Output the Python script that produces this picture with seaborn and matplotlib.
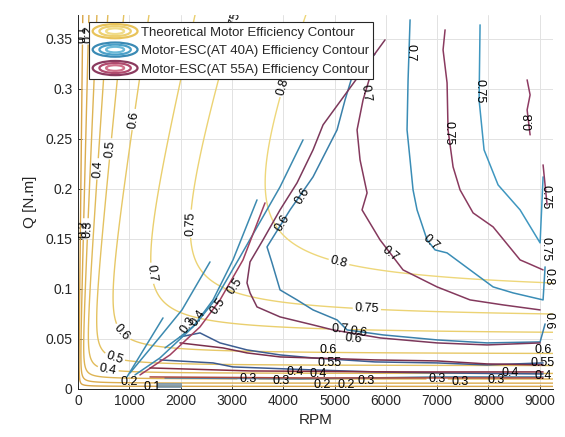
import numpy as np
import pandas as pd
import seaborn as sns
import matplotlib
matplotlib.use("Agg")
import matplotlib.pyplot as plt
from matplotlib.patches import Ellipse
from matplotlib.lines import Line2D
from matplotlib.legend_handler import HandlerBase

# ---------------- theoretical motor model constants ----------------
KV_RPM_PER_V = 1000.0      # motor velocity constant
R_WINDING = 0.019          # winding resistance [ohm]
I_NO_LOAD = 2.4            # no-load current [A]
theory_levels = [0.1, 0.2, 0.3, 0.4, 0.5, 0.6, 0.7, 0.75, 0.8]
theory_colors = ["#d8a447", "#dbac4e", "#deb454", "#e1bb5a", "#e4c261",
                 "#e7c867", "#eacf6e", "#ecd374", "#eed77a"]
RPM_MAX = 9260
Q_MAX = 0.374

# Motor-ESC (AT 40A)
b075_rpm = [7836, 7817, 7914, 8187, 8616, 9006, 9064]
b075_q = [0.364, 0.289, 0.239, 0.204, 0.179, 0.146, 0.212]
b070_rpm = [6472, 6433, 6413, 6472, 6530, 6608, 6706, 6803, 6959, 7193, 7641, 8090, 8480, 9064, 9103]
b070_q = [0.369, 0.309, 0.259, 0.229, 0.199, 0.179, 0.164, 0.149, 0.139, 0.136, 0.119, 0.102, 0.096, 0.089, 0.122]
b060_rpm = [5790, 5341, 5205, 5049, 4581, 4133, 3684, 3782, 3938, 4269, 4581, 5049, 5244, 5945, 6998, 7973, 9006, 9103]
b060_q = [0.335, 0.312, 0.289, 0.259, 0.212, 0.179, 0.142, 0.126, 0.099, 0.089, 0.079, 0.069, 0.059, 0.054, 0.049, 0.046, 0.047, 0.065]
b055_rpm = [1988, 2378, 2768, 3294, 3938, 4581, 5789, 6998, 7973, 9064]
b055_q = [0.052, 0.056, 0.046, 0.039, 0.034, 0.031, 0.027, 0.026, 0.024, 0.026]
b050a_rpm = [4386, 3938, 3548, 3158, 2671, 2281, 1988, 1696]
b050a_q = [0.249, 0.202, 0.167, 0.132, 0.089, 0.064, 0.052, 0.041]
b050b_rpm = [3489, 3021, 2632, 2242, 1598, 1111]
b050b_q = [0.189, 0.129, 0.089, 0.062, 0.031, 0.014]
b040a_rpm = [2573, 2027, 1598, 1014]
b040a_q = [0.127, 0.079, 0.052, 0.016]
b040b_rpm = [1657, 955]
b040b_q = [0.071, 0.012]
b040_rpm = [1598, 2632, 3021, 4581, 5789, 6998, 9064]
b040_q = [0.029, 0.026, 0.022, 0.019, 0.017, 0.016, 0.015]
b030_rpm = [1696, 4327, 6998, 9064]
b030_q = [0.011, 0.010, 0.012, 0.012]

# Motor-ESC (AT 55A)
r080_rpm = [8753, 8811, 8753, 8811]
r080_q = [0.309, 0.294, 0.279, 0.254]
r080b_rpm = [9064, 9103, 9142]
r080b_q = [0.224, 0.204, 0.184]
r075_rpm = [7154, 7115, 7193, 7212, 7310, 7446, 7700, 8090, 8616, 8753, 9064]
r075_q = [0.359, 0.339, 0.306, 0.259, 0.222, 0.199, 0.176, 0.162, 0.129, 0.126, 0.119]
r070_rpm = [5731, 5556, 5439, 5497, 5634, 5536, 5887, 6335, 6998, 7641, 8285, 9006]
r070_q = [0.319, 0.289, 0.259, 0.229, 0.196, 0.179, 0.149, 0.119, 0.102, 0.089, 0.084, 0.079]
r060_rpm = [5984, 4776, 4581, 4269, 3938, 3606, 3353, 3294, 3353, 3489, 3938, 4581, 4971, 5887, 6998, 7973, 9006]
r060_q = [0.349, 0.264, 0.239, 0.206, 0.179, 0.149, 0.127, 0.106, 0.096, 0.082, 0.072, 0.064, 0.059, 0.051, 0.046, 0.044, 0.046]
r055_rpm = [1988, 2320, 2827, 3294, 3938, 5789, 6998, 7973, 9064]
r055_q = [0.046, 0.044, 0.041, 0.036, 0.032, 0.029, 0.028, 0.025, 0.024]
r050_rpm = [3645, 3216, 2768, 2378, 1793, 1209]
r050_q = [0.186, 0.129, 0.089, 0.062, 0.034, 0.014]
r040_rpm = [1404, 3353, 6277, 9064]
r040_q = [0.021, 0.018, 0.017, 0.017]
r030_rpm = [1404, 4327, 9064]
r030_q = [0.012, 0.011, 0.011]

patch_rpm = [1540, 2030]
patch_q_low = [0.001, 0.001]
patch_q_high = [0.006, 0.006]

# contour labels: text, rpm, Q, rotation
measured_labels = [
    ("0.7", 6480, 0.336, -90), ("0.75", 7830, 0.298, -90), ("0.7", 6880, 0.146, -42),
    ("0.6", 4386, 0.193, 58), ("0.6", 3990, 0.166, 58), ("0.75", 9110, 0.140, -90),
    ("0.6", 5470, 0.057, -8),
    ("0.7", 5610, 0.296, -82), ("0.75", 7215, 0.256, -90), ("0.8", 8790, 0.268, 90),
    ("0.7", 6080, 0.135, -38), ("0.6", 5360, 0.050, -5), ("0.75", 9110, 0.192, -90),
    ("0.6", 4880, 0.039, 0), ("0.55", 4900, 0.026, 0), ("0.4", 4690, 0.015, 0),
    ("0.2", 4760, 0.004, 0), ("0.3", 7450, 0.007, 0), ("0.3", 3950, 0.008, 0),
    ("0.4", 4230, 0.017, 0), ("0.6", 9060, 0.039, 0), ("0.55", 9060, 0.026, 0),
    ("0.4", 9070, 0.013, 0), ("0.4", 8420, 0.016, 0), ("0.3", 8140, 0.009, 0),
    ("0.2", 5230, 0.004, 0), ("0.3", 5620, 0.008, 0),
    ("0.3", 2140, 0.064, 55), ("0.4", 2330, 0.071, 55), ("0.5", 2720, 0.083, 55),
    ("0.5", 3060, 0.103, 55), ("0.2", 1000, 0.007, 0), ("0.1", 1450, 0.002, 0),
    ("0.6", 9170, 0.068, -90), ("0.8", 9170, 0.112, -90),
]
theory_label_pos = [(94, 0.355), (213, 0.355), (368, 0.355), (94, 0.16), (213, 0.16),
                    (390, 0.22), (585, 0.019), (640, 0.24), (721, 0.032),
                    (1000, 0.27), (877, 0.057), (1500, 0.116), (5107, 0.062),
                    (2300, 0.165), (5630, 0.081), (5107, 0.131), (4133, 0.30),
                    (3314, 0.009), (7000, 0.008), (3300, 0.362)]

legend_labels = ["Theoretical Motor Efficiency Contour",
                 "Motor-ESC(AT 40A) Efficiency Contour",
                 "Motor-ESC(AT 55A) Efficiency Contour"]

BLUE = {"0.75": "#3f97c0", "0.7": "#3a8db6", "0.6": "#3a80aa", "0.55": "#3d5e92",
        "0.5": "#3c8ab0", "0.4": "#3d5a8e", "0.3": "#4a82a8"}
RED = {"0.8": "#8e3b63", "0.75": "#8a3a5f", "0.7": "#84395d", "0.6": "#7c385b",
       "0.55": "#7a2f4c", "0.5": "#a0405f", "0.4": "#852c40", "0.3": "#b04a3c"}

measured = [
    (b075_rpm, b075_q, BLUE["0.75"]), (b070_rpm, b070_q, BLUE["0.7"]),
    (b060_rpm, b060_q, BLUE["0.6"]), (b055_rpm, b055_q, BLUE["0.55"]),
    (b050a_rpm, b050a_q, BLUE["0.5"]), (b050b_rpm, b050b_q, BLUE["0.5"]),
    (b040a_rpm, b040a_q, BLUE["0.5"]), (b040b_rpm, b040b_q, BLUE["0.5"]),
    (b040_rpm, b040_q, BLUE["0.4"]), (b030_rpm, b030_q, BLUE["0.3"]),
    (r080_rpm, r080_q, RED["0.8"]), (r080b_rpm, r080b_q, RED["0.8"]),
    (r075_rpm, r075_q, RED["0.75"]), (r070_rpm, r070_q, RED["0.7"]),
    (r060_rpm, r060_q, RED["0.6"]), (r055_rpm, r055_q, RED["0.55"]),
    (r050_rpm, r050_q, RED["0.5"]), (r040_rpm, r040_q, RED["0.4"]),
    (r030_rpm, r030_q, RED["0.3"]),
]

# ---------------- figure ----------------
sns.set_theme(style="whitegrid")
plt.rcParams['font.family'] = ['Liberation Sans', 'DejaVu Sans']

fig = plt.figure(figsize=(5.65, 4.37), dpi=100)
ax = fig.add_axes([0.138, 0.110, 0.841, 0.856])
ax.set_facecolor("white")
ax.set_xlim(0, RPM_MAX)
ax.set_ylim(0, Q_MAX)

# theoretical efficiency field from the motor model
rpm_axis = np.linspace(0, RPM_MAX, 500)
q_axis = np.linspace(0, Q_MAX, 500)
RPM, Q = np.meshgrid(rpm_axis, q_axis)
kv_si = KV_RPM_PER_V * 2 * np.pi / 60
omega = RPM * 2 * np.pi / 60
current = Q * kv_si + I_NO_LOAD
eff = (1 - I_NO_LOAD / current) * omega / (omega + kv_si * current * R_WINDING)
cs = ax.contour(RPM, Q, eff, levels=theory_levels, colors=theory_colors, linewidths=1.0, zorder=2)

# measured contours
for xs, ys, col in measured:
    df = pd.DataFrame({"rpm": xs, "q": ys})
    sns.lineplot(data=df, x="rpm", y="q", sort=False, estimator=None, color=col,
                 linewidth=1.1, ax=ax, legend=False, zorder=3)
ax.fill_between(patch_rpm, patch_q_low, patch_q_high, color="#6f8fa6", alpha=0.8, lw=0, zorder=3)

ax.clabel(cs, inline=True, fontsize=9, colors="black", manual=theory_label_pos,
          fmt=lambda v: f"{v:g}", inline_spacing=2)

for txt, x, y, rot in measured_labels:
    ax.text(x, y, txt, rotation=rot, fontsize=9, color="black", ha="center", va="center",
            rotation_mode="anchor", zorder=4)

# axes styling
ax.set_xticks(range(0, 9001, 1000))
ax.set_yticks([0, 0.05, 0.1, 0.15, 0.2, 0.25, 0.3, 0.35])
ax.set_yticklabels(["0", "0.05", "0.1", "0.15", "0.2", "0.25", "0.3", "0.35"])
ax.tick_params(axis="both", labelsize=10, colors="#262626", direction="in", length=3, width=0.6,
               bottom=True, left=True, pad=4)
ax.grid(True, color="#e2e2e2", linewidth=0.7)
for s in ["top", "right"]:
    ax.spines[s].set_visible(False)
for s in ["left", "bottom"]:
    ax.spines[s].set_color("#262626")
    ax.spines[s].set_linewidth(0.7)
ax.set_xlabel("RPM", fontsize=11, color="#262626", labelpad=3)
ax.set_ylabel("Q [N.m]", fontsize=11, color="#262626", labelpad=6)


class EllipseHandler(HandlerBase):
    def __init__(self, colors):
        super().__init__()
        self.colors = colors

    def create_artists(self, legend, orig_handle, xdescent, ydescent, width, height, fontsize, trans):
        cx = width / 2 - xdescent
        cy = height / 2 - ydescent
        arts = []
        for i, c in enumerate(self.colors):
            f = 1.0 - 0.3 * i
            arts.append(Ellipse((cx, cy), width * f, height * 1.2 * f, fill=False,
                                edgecolor=c, linewidth=1.6, transform=trans))
        return arts


handles = [Line2D([], []) for _ in range(3)]
hmap = {handles[0]: EllipseHandler(["#e8c35a", "#edd070", "#f0dc88"]),
        handles[1]: EllipseHandler(["#3a8ab4", "#4aa0c8", "#6cbad8"]),
        handles[2]: EllipseHandler(["#8a3a5e", "#b04a6e", "#d0708a"])}
leg = ax.legend(handles, legend_labels, handler_map=hmap, loc="upper left",
                bbox_to_anchor=(0.024, 0.981), fontsize=9.5, frameon=True, fancybox=False,
                edgecolor="#262626", framealpha=1, handlelength=3.4, handleheight=1.0,
                labelspacing=0.38, borderpad=0.25, handletextpad=0.3, borderaxespad=0)
leg.get_frame().set_linewidth(0.8)
leg.set_zorder(10)

fig.savefig("out.png", dpi=100)
